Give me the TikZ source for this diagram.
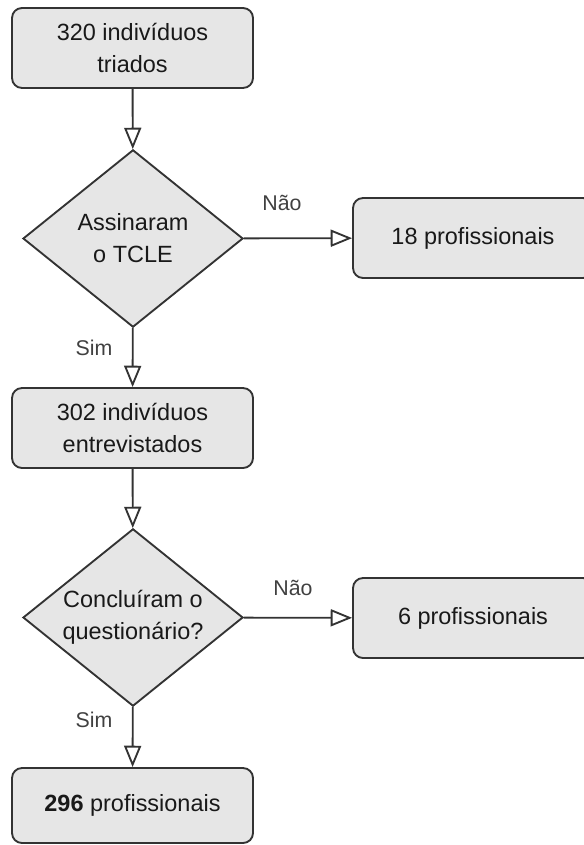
\documentclass[tikz,border=0pt]{standalone}
\usepackage{fontspec}
\setmainfont{Liberation Sans}
\usepackage{tikz}
\usetikzlibrary{shapes, arrows.meta, positioning}

\definecolor{boxfill}{HTML}{E6E6E6}
\definecolor{boxline}{HTML}{333333}

\tikzset{
    caixa/.style={draw=boxline, fill=boxfill, line width=1.4pt, rounded corners=7.5pt,
        minimum width=180.75pt, minimum height=60pt, align=center,
        font=\fontsize{17.6}{24}\selectfont, text=black!90},
    decisao/.style={draw=boxline, fill=boxfill, line width=1.4pt, diamond, inner sep=0pt,
        shape aspect=1.24, minimum width=165pt, minimum height=133pt, align=center,
        font=\fontsize{17.6}{24}\selectfont, text=black!90},
    seta/.style={draw=boxline, line width=1.4pt,
        -{Triangle[open, length=16pt, width=12.75pt, fill=white]}},
    rotulo/.style={font=\fontsize{16}{19}\selectfont, text=black!75}
}

\begin{document}
\begin{tikzpicture}[x=0.75pt, y=-0.75pt]
    \useasboundingbox (0,0) rectangle (584,845);

    % Coluna principal
    \node[caixa] (triados) at (132.5,48) {320 indivíduos\\triados};
    \node[decisao] (tcle) at (133,238.5) {Assinaram\\o TCLE};
    \node[caixa] (entrevistados) at (132.5,428) {302 indivíduos\\entrevistados};
    \node[decisao] (concluiram) at (133,617.5) {Concluíram o\\questionário?};
    \node[caixa, minimum height=56.25pt] (final) at (132.5,805.5) {\textbf{296} profissionais};

    % Exclusoes
    \node[caixa, minimum width=180pt] (excl1) at (473,238) {18 profissionais};
    \node[caixa, minimum width=180pt] (excl2) at (473,618) {6 profissionais};

    % Ligacoes
    \draw[seta] (triados) -- (tcle);
    \draw[seta] (tcle) -- (entrevistados);
    \draw[seta] (tcle) -- (excl1);
    \draw[seta] (entrevistados) -- (concluiram);
    \draw[seta] (concluiram) -- (final);
    \draw[seta] (concluiram) -- (excl2);

    % Rotulos
    \node[rotulo] (nao1) at (282,203) {Não};
    \node[rotulo] (sim1) at (94,348) {Sim};
    \node[rotulo] (nao2) at (293,588) {Não};
    \node[rotulo] (sim2) at (94,720) {Sim};
\end{tikzpicture}
\end{document}
